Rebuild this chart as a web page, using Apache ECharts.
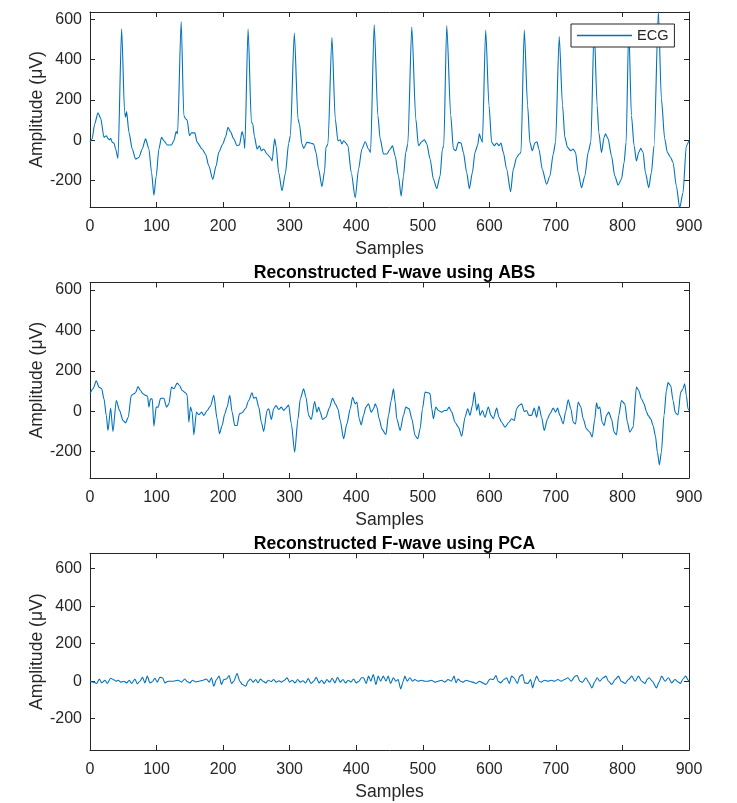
<!DOCTYPE html>
<html>
<head>
<meta charset="utf-8">
<script src="https://cdn.jsdelivr.net/npm/echarts@6/dist/echarts.min.js"></script>
<style>
html, body { margin: 0; padding: 0; background: #ffffff; }
#chart { width: 737px; height: 803px; }
</style>
</head>
<body>
<div id="chart"></div>
<script>
// ECG recording (sample index, amplitude in µV)
const ecgSamples = [0,3,7,12,16,21,24.5,27.5,29.5,31,33.5,36,38.5,42,47.5,52,53.5,55,58.5,63.5,68.5,73.5,78.5,83.5,88.5,92.5,96,99.5,103.5,107.5,111,116,122.5,126,129.5,131.5,137,141,143.5,146,149.5,152.5,157.5,161,168.5,173.5,178.5,184.5,189.5,193.5,199.5,203.5,207.5,211,216,221,224.5,228.5,231,232.5,237.5,242.5,244.5,247,251,254.5,257.5,261,266,271,273.5,277.5,279.5,283.5,288.5,293.5,298.5,301,307,312.5,314.5,318.5,321,326,331,336,339.5,343.5,348.5,352.5,354.5,357.5,363.5,368.5,372.5,376,378.5,381,383.5,387.5,392.5,398.5,403.5,408.5,413.5,418.5,421.5,427,432.5,436,441,446,451,454.5,458.5,463.5,467.5,471,474.5,477.5,483.5,489.5,493.5,498.5,502.5,506,511,516,521,526,529.5,531.5,536,542,546,549.5,553.5,557.5,561,566,570,574.5,578.5,582.5,585,587.5,589.5,594.5,599.5,603.5,607.5,611,614.5,617.5,621,626,632,636,641,645,647.5,652.5,657.5,661,664.5,668.5,671.5,674.5,679.5,686,691,696,699.5,705,710,713.5,717.5,722.5,726,729.5,733.5,738.5,743.5,748.5,752.5,757.5,762,764.5,768.5,772.5,774.5,778.5,783.5,788.5,793.5,798.5,802.5,805.5,809.5,813.5,817.5,821,824.5,827.5,831,834.5,839.5,843.5,847.5,854,858.5,863.5,867.5,872.5,876,881,886,891,896,900];
const ecgValues = [-10,5,80,137,110,15,23,7,3,10,-10,-13,-43,-90,553,140,115,143,40,-43,-93,-85,-43,7,-43,-160,-273,-177,-43,15,-2,-23,-23,-2,43,32,590,123,107,100,23,37,37,-10,-43,-68,-127,-193,-127,-60,-18,15,65,43,7,-27,-23,43,15,-40,553,90,82,20,-43,-27,-52,-43,-68,-85,-102,7,-27,-160,-250,-165,-15,23,532,107,82,-18,-40,-10,-13,-18,-60,-143,-230,-152,-35,-18,512,107,-2,3,-18,-2,-10,-27,-160,-285,-143,-43,-7,-43,-60,573,123,7,-68,-68,-43,-27,-77,-177,-277,-177,-60,-18,562,107,-27,-7,3,-18,-93,-193,-240,-177,-43,-27,570,123,-43,-52,-10,-13,-60,-160,-240,-160,-60,-23,32,7,-10,548,173,-10,-27,-13,-27,-13,-60,-143,-255,-143,-85,-68,-60,548,173,-10,-52,-13,-7,-43,-143,-218,-177,-68,-10,515,173,15,-35,-52,-43,-60,-160,-235,-177,-60,-10,560,173,40,-60,15,32,7,-77,-177,-222,-193,-110,-10,560,123,-27,-102,-60,-40,-60,-160,-235,-160,-27,640,207,7,-60,-85,-110,-227,-335,-260,-27,0];

// F-wave reconstructed with average beat subtraction
const absSamples = [0,4.5,9.5,13.5,17.5,21,24.5,27,31,34.5,39.5,44.5,49.5,53.5,57.5,62,66,68.5,72,76,79.5,83.5,86.5,88.5,91,93.5,96,99.5,102.5,106,111,115,118.5,122.5,126,131,134.5,138.5,143.5,146,148.5,151,153.5,156,160,163.5,167.5,171,176,181,186,191,194.5,198.5,202.5,206,210,213.5,217.5,221,224.5,228.5,233.5,238.5,243.5,246,249.5,253.5,257.5,261,266,268.5,272.5,276,279.5,283.5,287.5,291,293.5,298.5,302.5,307.5,312.5,316,321,324.5,328.5,332.5,337.5,341,343.5,346,349.5,354.5,359.5,364.5,368.5,372.5,376,381,386,391,394.5,398.5,401,404.5,407.5,411,414.5,418.5,422.5,426,428.5,431,434.5,438.5,444.5,448.5,452.5,456,458.5,461,466,471,474.5,479.5,483.5,488.5,492.5,496,499.5,503.5,508.5,511,513.5,516,519.5,523.5,528.5,532.5,536,539.5,543.5,548.5,553.5,558.5,563.5,567.5,571,574.5,577.5,581,583.5,586,589.5,593.5,598.5,602.5,606,611,614.5,618.5,623.5,629.5,633.5,637.5,641,644.5,648.5,652.5,656,659.5,663.5,667.5,671,674.5,678.5,682.5,687.5,691,696,699.5,702.5,706,711,714.5,718.5,722.5,726,729.5,733.5,737.5,741,746,751,754.5,758.5,761,763.5,766,769.5,772.5,776,779.5,783.5,787.5,791,794.5,798.5,803.5,807.5,811,816,821,824.5,828.5,832.5,836,838.5,842.5,846,849.5,852.5,855.5,858.5,862.5,866,868.5,872.5,876,879.5,883.5,887.5,891,893.5,896,898.5,900];
const absValues = [86,111,150,119,111,61,-21,-96,15,-101,53,3,-46,-58,-30,78,86,91,122,102,86,78,74,20,61,61,-74,20,20,64,64,20,36,119,111,139,127,102,91,78,-55,20,-5,-117,-5,-18,-5,-21,3,25,78,-38,-112,-71,-13,20,78,-5,-71,-71,-13,-8,12,53,91,64,69,20,-55,-101,3,12,-41,12,28,8,20,3,12,30,-63,-203,-38,61,111,69,-21,-41,48,-5,20,-5,-41,-30,15,64,36,12,-46,-137,-63,12,69,36,45,-38,-68,-21,20,36,-5,12,36,20,-38,-88,-117,-21,53,111,45,-38,-96,-21,20,12,-38,-121,-137,-88,12,94,91,86,12,-38,20,3,-5,3,3,20,-5,-55,-79,-124,-30,12,-21,28,94,3,36,-21,3,-30,20,-21,-38,15,-30,-55,-79,-55,-38,-46,12,28,36,-2,3,-21,-21,15,-30,25,-30,-96,-38,-13,15,-5,15,-21,-63,-5,56,12,-55,-63,45,20,-38,-88,-104,-129,-38,41,12,20,-55,-71,-21,-5,-38,-104,-117,-21,53,36,-55,-104,-79,119,102,61,36,-2,-21,-38,-71,-121,-203,-266,-203,-21,102,141,127,53,-8,-18,94,111,136,78,12,5];

// F-wave reconstructed with principal component analysis
const pcaSamples = [0,5,10,14,17.5,22.5,26,31,35,39,42.5,46,51,55,59,62.5,67.5,71,75,79,82.5,86,90,94,97.5,101,105,109,112.5,117.5,125,132.5,137.5,142.5,146,150,154,159,164,170,175,179,182.5,186,190,194,197.5,201,205,209,212.5,216,221,225,229,234,237.5,241,245,249,252.5,256,260,264,268,272,276,280,284,288,292,296,300,304,308,312,316,320,324,328,332,336,340,344,348,352,356,360,364,368,372,376,380,384,388,392,396,400,404,408,411,415,418.5,422,425.6,429.6,433,436.6,440.7,444.7,448,451.7,455.7,459.7,463,466.7,470.7,473,476.6,480.7,484.7,488,493,498,503,508,513,518,523,528,533,538,543,547,550,553,557,561,565,570,575,580,585,590,595,601,606,610,613,617,622,626,630,633.5,637,642,646,650,653,658,662,665,668,671,675,678,683,688,693,698,703,708,713,718,723,729,732,736,740,745,750,754,759,762,766,771,775,779,784,789,794,798,804,809,814,819,824,829,834,837,840,845,851,855,859,864,869,874,879,884,887,891,895,899,900];
const pcaValues = [0,-5,-12,12,-9,5,-12,16,9,0,5,-5,0,-9,5,-12,12,-14,0,21,-9,27,-9,-2,16,-5,21,18,-9,0,0,5,-5,12,-2,-9,5,-4,0,5,12,-5,18,-27,9,27,-18,9,12,30,-12,0,41,0,-18,-27,0,12,-5,9,-9,12,0,-9,5,-2,9,-5,2,-5,5,18,-5,5,-9,9,-5,2,-9,14,-12,0,21,-9,5,-12,9,-5,16,-9,21,-5,9,-9,5,-5,12,-9,0,18,18,-12,27,0,36,-18,27,0,27,0,27,-12,18,0,9,-41,0,27,0,18,0,9,0,5,0,0,5,-5,0,5,-5,9,0,27,-9,12,0,-5,5,0,-5,-12,0,-9,-18,12,9,30,0,-9,9,18,-12,27,18,-12,27,36,-9,-12,9,-36,0,27,0,-5,5,0,5,0,9,0,9,18,0,27,30,0,-5,18,-9,-36,0,18,0,18,27,0,-18,9,27,0,-12,9,27,0,27,0,-12,9,18,0,-36,-5,27,0,18,-9,9,-5,-12,12,27,5,0];

const panelTitles = ['', 'Reconstructed F-wave using ABS', 'Reconstructed F-wave using PCA'];
const seriesNames = ['ECG', 'ABS', 'PCA'];
const yTickValues = [-200, 0, 200, 400, 600];
const xTickStep = 100;
const xLabel = 'Samples';
const yLabel = 'Amplitude (μV)';

const INK = '#262626';
const LINE = '#0072BD';
const FONT = 'Liberation Sans, Arial, Helvetica, sans-serif';

// plot boxes: [top, height, yMin, yMax]
const panels = [
  [12, 195, -331, 637],
  [282.5, 195.5, -331, 637],
  [553.3, 196.7, -367, 682]
];

const pairs = (xs, ys) => xs.map((x, i) => [x, ys[i]]);
const seriesData = [
  pairs(ecgSamples, ecgValues),
  pairs(absSamples, absValues),
  pairs(pcaSamples, pcaValues)
];

const grid = [], xAxis = [], yAxis = [], series = [], title = [];
panels.forEach((p, i) => {
  grid.push({ left: 90, width: 599, top: p[0], height: p[1], containLabel: false });
  const tickStyle = { show: true, inside: true, length: 5, lineStyle: { color: INK, width: 1 } };
  const lineStyle = { show: true, onZero: false, lineStyle: { color: INK, width: 1 } };
  xAxis.push({
    gridIndex: i, type: 'value', position: 'bottom', min: 0, max: 900, interval: xTickStep,
    axisLine: lineStyle, axisTick: tickStyle, splitLine: { show: false },
    axisLabel: { color: INK, fontSize: 16, fontFamily: FONT, margin: 12 },
    name: xLabel, nameLocation: 'middle', nameGap: 33, nameMoveOverlap: false,
    nameTextStyle: { color: INK, fontSize: 17.6, fontFamily: FONT }
  });
  xAxis.push({
    gridIndex: i, type: 'value', position: 'top', min: 0, max: 900, interval: xTickStep,
    axisLine: lineStyle, axisTick: tickStyle, splitLine: { show: false },
    axisLabel: { show: false }
  });
  yAxis.push({
    gridIndex: i, type: 'value', position: 'left', min: p[2], max: p[3],
    axisLine: lineStyle,
    axisTick: Object.assign({}, tickStyle, { customValues: yTickValues }),
    splitLine: { show: false },
    axisLabel: { color: INK, fontSize: 16, fontFamily: FONT, margin: 8, customValues: yTickValues },
    name: yLabel, nameLocation: 'middle', nameGap: 44, nameRotate: 90, nameMoveOverlap: false,
    nameTextStyle: { color: INK, fontSize: 17.6, fontFamily: FONT }
  });
  yAxis.push({
    gridIndex: i, type: 'value', position: 'right', min: p[2], max: p[3],
    axisLine: lineStyle,
    axisTick: Object.assign({}, tickStyle, { customValues: yTickValues }),
    splitLine: { show: false },
    axisLabel: { show: false }
  });
  series.push({
    name: seriesNames[i], type: 'line', xAxisIndex: 2 * i, yAxisIndex: 2 * i,
    data: seriesData[i], symbol: 'none', showSymbol: false, clip: true,
    smooth: 0.25, smoothMonotone: 'x',
    lineStyle: { color: LINE, width: 1.1 }, itemStyle: { color: LINE },
    animation: false
  });
  if (panelTitles[i]) {
    title.push({
      text: panelTitles[i], left: 389.5, top: p[0] - 23, textAlign: 'center',
      textStyle: { color: '#000', fontSize: 17.6, fontWeight: 'bold', fontFamily: FONT }
    });
  }
});

const chart = echarts.init(document.getElementById('chart'), null, { renderer: 'canvas' });
chart.setOption({
  backgroundColor: '#ffffff',
  animation: false,
  title: title,
  grid: grid,
  xAxis: xAxis,
  yAxis: yAxis,
  series: series,
  legend: {
    data: [{ name: 'ECG', icon: 'rect', itemStyle: { color: LINE, borderWidth: 0 } }],
    left: 571, top: 24, orient: 'horizontal',
    padding: [4, 6, 4, 6], itemWidth: 55, itemHeight: 1.3, itemGap: 5,
    backgroundColor: '#ffffff', borderColor: INK, borderWidth: 1, borderRadius: 0,
    textStyle: { color: INK, fontSize: 14.5, fontFamily: FONT, lineHeight: 15 },
    selectedMode: false
  }
});
</script>
</body>
</html>
